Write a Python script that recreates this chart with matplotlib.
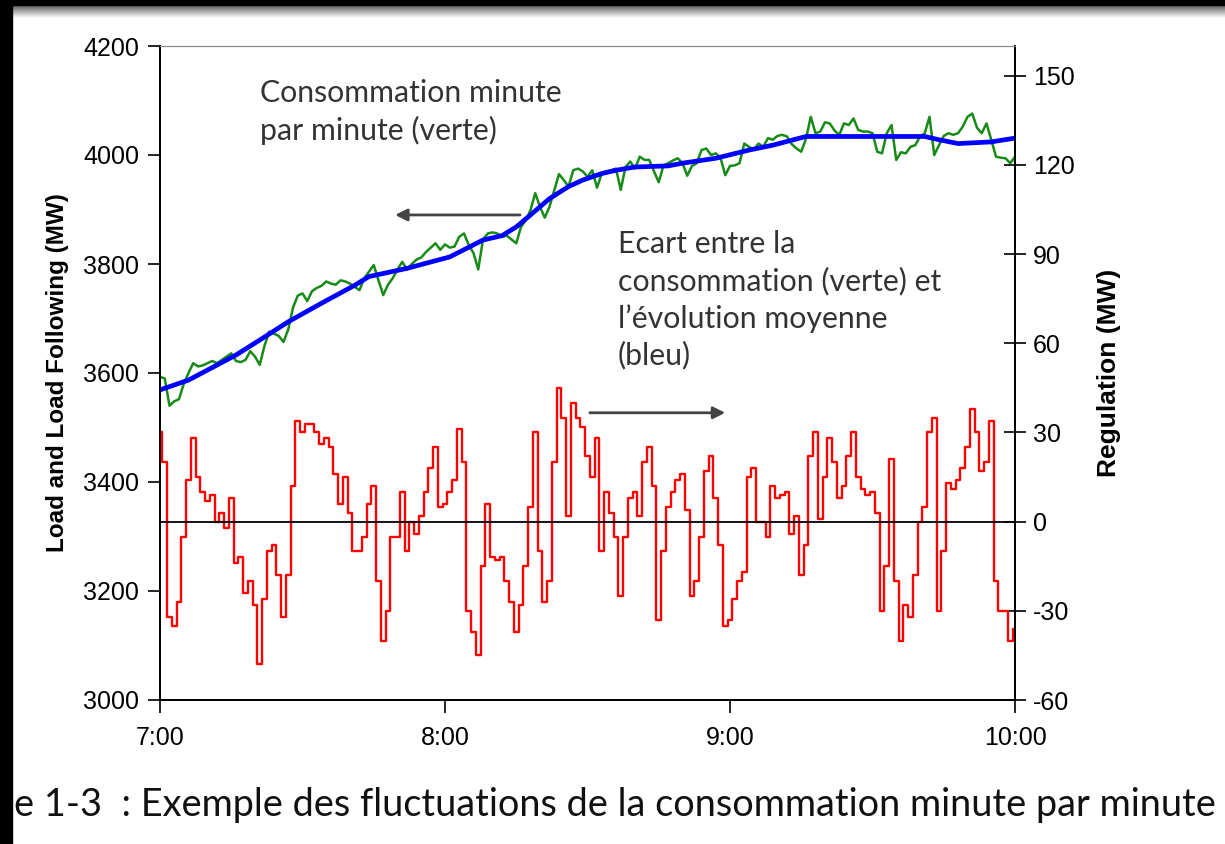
import numpy as np
import matplotlib
matplotlib.use("Agg")
import matplotlib.pyplot as plt

plt.rcParams["font.family"] = ["Liberation Sans", "DejaVu Sans"]
plt.rcParams["axes.unicode_minus"] = False

# minute-by-minute load (green), 7:00 -> 10:00
load = [3593, 3590, 3540, 3548, 3552, 3580, 3600, 3618, 3612, 3614,
        3618, 3622, 3618, 3624, 3630, 3636, 3622, 3620, 3624, 3640,
        3630, 3615, 3650, 3676, 3672, 3668, 3657, 3680, 3720, 3742,
        3746, 3732, 3750, 3756, 3760, 3768, 3764, 3762, 3770, 3768,
        3764, 3758, 3752, 3774, 3786, 3798, 3770, 3743, 3762, 3774,
        3790, 3804, 3790, 3800, 3808, 3812, 3822, 3830, 3838, 3826,
        3836, 3830, 3832,
        3850, 3856, 3835, 3820, 3790, 3845, 3856, 3858, 3856, 3850,
        3852, 3845, 3838, 3868, 3880, 3899, 3930, 3905, 3885, 3905,
        3935, 3965, 3954, 3942, 3972, 3975, 3970, 3960, 3972, 3940,
        3966, 3970, 3972, 3975, 3936, 3978, 3988, 3975, 3997, 3991,
        3991, 3970, 3950, 3981, 3985, 3990, 3994, 3985, 3962, 3980,
        3985, 4009, 4012, 4000, 4003, 3995, 3963, 3980, 3981, 3985,
        4021, 4015,
        4010, 4021, 4015, 4031, 4028, 4035, 4037, 4034, 4020, 4012,
        4006, 4030, 4070, 4040, 4043, 4060, 4058, 4045, 4037, 4058,
        4055, 4067, 4046, 4043, 4043, 4040, 4006, 4003, 4040, 4055,
        3991, 4005, 4003, 4015, 4018, 4034, 4040, 4070, 4000, 4018,
        4035, 4040, 4037, 4040, 4052, 4070, 4076, 4050, 4040, 4058,
        4028, 3997, 3995, 3994, 3985, 3997]

# smoothed load following (blue)
trend_min = [0, 6, 16, 22, 27, 34, 41, 44, 52, 61, 68, 72, 75, 78, 82, 86, 89,
             93, 96, 100, 107, 110, 117, 124, 129, 136, 150, 161, 164, 168,
             175, 180]
trend = [3569, 3587, 3633, 3666, 3694, 3728, 3761, 3777, 3792, 3813, 3844,
         3852, 3868, 3890, 3920, 3942, 3954, 3966, 3972, 3978, 3980, 3985,
         3994, 4009, 4018, 4034, 4034, 4034, 4028, 4021, 4024, 4031]

# regulation (red), right axis
regulation = [30, 20, -32, -35, -27, -5, 14, 28, 15, 10,
              7, 9, 0, 3, -2, 8, -14, -12, -24, -20,
              -28, -48, -26, -10, -8, -18, -32, -18, 12, 34,
              30, 33, 33, 30, 26, 28, 25, 16, 6, 15,
              3, -10, -10, -5, 6, 12, -20, -40, -30, -5,
              -5, 10, -10, 0, -4, 2, 10, 18, 25, 5,
              6, 10, 14, 31, 20, -30, -37, -45, -15, 6,
              -12, -13, -12, -20, -27, -37, -28, -15, 5, 30,
              -10, -27, -20, 20, 45, 35, 2, 40, 35, 32,
              22, 15, 28, -10, 10, 3, -5, -25, -5, 8,
              10, 2, 20, 25, 12, -33, -10, 5, 10, 14,
              16, 4, -25, -20, -5, 17, 22, 8, -8, -35,
              -33, -26, -20, -17, 15, 18, 0, 0, -5, 12,
              8, 9, 10, -4, 2, -18, -8, 22, 30, 1,
              15, 28, 20, 8, 12, 22, 30, 15, 11, 9,
              10, 3, -30, -15, 21, -20, -40, -28, -32, -18,
              0, 5, 30, 35, -30, -10, 13, 11, 14, 18,
              25, 38, 30, 17, 20, 34, -20, -30, -30, -40,
              -36]

minutes = np.arange(len(load))
tick_pos = [0, 60, 120, 180]
tick_lab = ["7:00", "8:00", "9:00", "10:00"]

fig = plt.figure(figsize=(12.25, 8.44), dpi=100)
ax = fig.add_axes([160/1225, 1 - 700/844, 855/1225, 654/844])
ax2 = ax.twinx()

ax.plot(minutes, load, color="#178a17", lw=1.8, zorder=3)
ax.plot(trend_min, trend, color="#0000ff", lw=3.4, zorder=4)
ax2.plot(minutes, regulation, color="#ff0000", lw=1.7, drawstyle="steps-mid")
ax2.axhline(0, color="black", lw=1.3)

ax.set_xlim(0, 180)
ax.set_ylim(3000, 4200)
ax.set_yticks(range(3000, 4201, 200))
ax2.set_ylim(-60, 160)
ax2.set_yticks(range(-60, 151, 30))
ax.set_xticks(tick_pos)
ax.set_xticklabels(tick_lab)

ax.tick_params(axis="y", direction="out", length=9, width=1.2, pad=6, labelsize=18)
ax.tick_params(axis="x", direction="out", length=9, width=1.2, pad=10, labelsize=18)
ax2.tick_params(axis="y", direction="inout", length=16, width=1.2, pad=5, labelsize=18)
for a in (ax, ax2):
    a.spines["top"].set_color("#888888")
    for s in ("left", "right", "bottom"):
        a.spines[s].set_linewidth(1.3)

ax.set_ylabel("Load and Load Following (MW)", fontsize=17.5, fontweight="bold",
              labelpad=10)
ax2.set_ylabel("Regulation (MW)", fontsize=19, fontweight="bold", labelpad=16)

# annotations
txt = dict(fontfamily="Lato", fontsize=21.8, color="#333333", va="top",
           ha="left", linespacing=1.36)
ax.text(21, 4139, "Consommation minute\npar minute (verte)", **txt)
ax.text(96.4, 3862, "Ecart entre la\nconsommation (verte) et\n"
        "l\u2019\u00e9volution moyenne\n(bleu)", **txt)
arrow = dict(arrowstyle="-|>", color="#444444", lw=2, mutation_scale=18,
             shrinkA=0, shrinkB=0)
ax.annotate("", xy=(49.5, 3890), xytext=(75.8, 3890), arrowprops=arrow)
ax.annotate("", xy=(119, 3527), xytext=(90.5, 3527), arrowprops=arrow)

fig.text(14/1225, 1 - 805/844,
         "e 1-3  : Exemple des fluctuations de la consommation minute par minute",
         fontfamily="Lato", fontsize=27.3, color="#111111", va="center", ha="left")

# scan borders
fig.patches.append(plt.Rectangle((0, 0), 12/1225, 1, transform=fig.transFigure,
                                 color="black", zorder=10))
fig.patches.append(plt.Rectangle((0, 1 - 5/844), 1, 5/844, transform=fig.transFigure,
                                 color="black", zorder=10))
gax = fig.add_axes([0, 1 - 18/844, 1, 13/844])
gax.imshow(np.linspace(0.35, 1, 50)[:, None], cmap="gray", aspect="auto",
           vmin=0, vmax=1)
gax.axis("off")

fig.savefig("out.png", dpi=100)
